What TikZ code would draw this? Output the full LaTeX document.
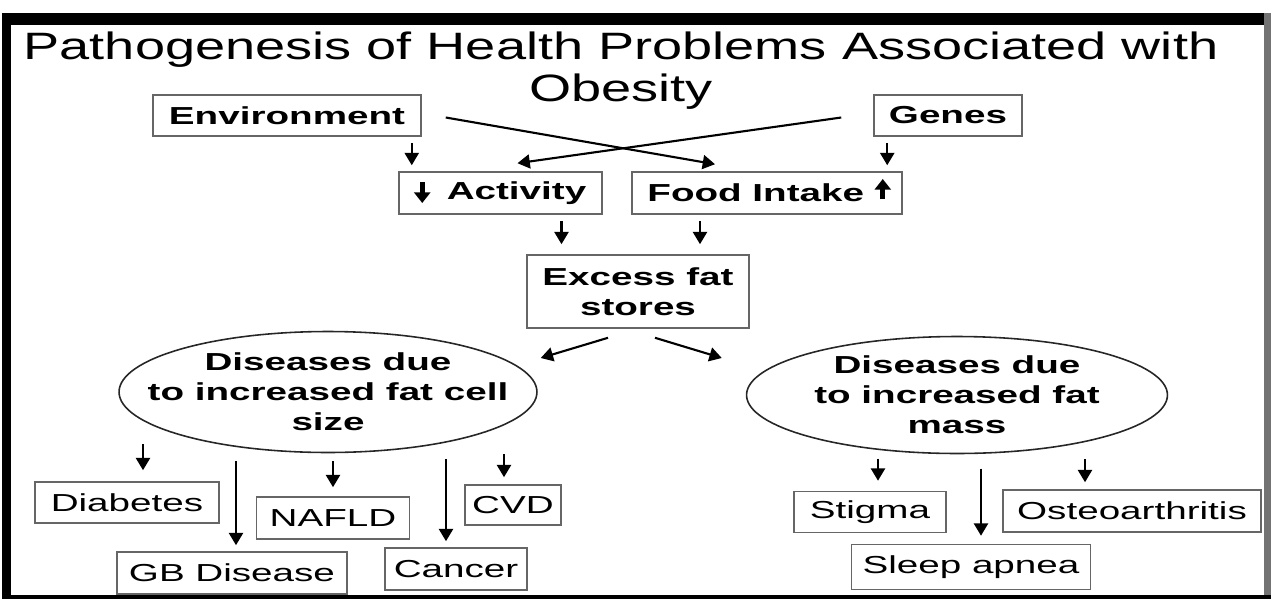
\documentclass[tikz,border=0pt]{standalone}
\usepackage{fontspec}
\setmainfont{Liberation Sans}[FakeStretch=1.57]
\newfontfamily\titlefont{Liberation Sans}[FakeStretch=1.42]
\usetikzlibrary{arrows.meta, shapes.geometric, calc}

\begin{document}
\begin{tikzpicture}[
      x=0.02cm, y=-0.02cm,
      >={Triangle[length=7pt, width=8pt]},
      arr/.style={->, line width=1.2pt},
      fatarr/.style={-{Triangle[length=6pt, width=9pt]}, line width=2.8pt},
      box/.style={draw=black!60, line width=0.9pt, inner sep=0pt,
        font=\fontsize{14}{17}\selectfont},
      bbox/.style={box, font=\fontsize{14}{17}\selectfont\bfseries},
      blob/.style={ellipse, draw=black!85, line width=0.9pt, inner sep=0pt},
      blobtext/.style={align=center, font=\fontsize{14}{17}\selectfont\bfseries},
    ]

    \useasboundingbox (0,0) rectangle (1271,599);
    \fill[black] (2,13) rectangle (1271,25);
    \fill[black] (2,13) rectangle (11,599);
    \fill[black!55] (1264,13) rectangle (1271,599);
    \fill[black] (2,595) rectangle (1271,599);

    \node[font=\titlefont\fontsize{21.7}{23.9}\selectfont, align=center, anchor=north]
      (title) at (621,26) {Pathogenesis of Health Problems Associated with\\Obesity};

    \node[bbox, minimum width=5.36cm, minimum height=0.82cm] (env)   at (287,115.5) {Environment};
    \node[bbox, minimum width=2.96cm, minimum height=0.82cm] (genes) at (948,115.5) {Genes};
    \node[bbox, minimum width=4.06cm, minimum height=0.84cm] (act)   at (500.5,193) {\hspace*{0.64cm}Activity};
    \node[bbox, minimum width=5.4cm,  minimum height=0.84cm] (food)  at (767,193) {Food Intake\hspace*{0.45cm}};
    \node[bbox, minimum width=4.44cm, minimum height=1.46cm, align=center]
      (excess) at (638,291.5) {Excess fat\\stores};

    \draw[fatarr] ($(act.west)+(24,-11)$) -- ($(act.west)+(24,10)$);
    \draw[fatarr] ($(food.east)+(-20,6)$) -- ($(food.east)+(-20,-14)$);

    \node[blob, minimum width=8.36cm, minimum height=2.42cm,
      label={[blobtext]center:Diseases due\\to increased fat cell\\size}] (ell1) at (328,392) {};
    \node[blob, minimum width=8.42cm, minimum height=2.34cm,
      label={[blobtext]center:Diseases due\\to increased fat\\mass}] (ell2) at (957,395) {};

    \node[box, minimum width=3.68cm, minimum height=0.82cm] (diab)   at (127,502.5) {Diabetes};
    \node[box, minimum width=4.6cm,  minimum height=0.84cm] (gb)     at (232,573) {GB Disease};
    \node[box, minimum width=3.06cm, minimum height=0.84cm] (nafld)  at (333,518) {NAFLD};
    \node[box, minimum width=1.92cm, minimum height=0.8cm]  (cvd)    at (513,505) {CVD};
    \node[box, minimum width=2.84cm, minimum height=0.84cm] (cancer) at (456,569) {Cancer};
    \node[box, minimum width=3.04cm, minimum height=0.82cm] (stigma) at (870,512) {Stigma};
    \node[box, minimum width=4.78cm, minimum height=0.9cm]  (sleep)  at (971,567) {Sleep apnea};
    \node[box, minimum width=5.16cm, minimum height=0.84cm] (osteo)  at (1132,511) {Osteoarthritis};

    \draw[arr] ($(env.south east)+(-10,6)$) -- ($(env.south east |- act.north)+(-10,-6)$);
    \draw[arr] ($(genes.south west)+(14,6)$) -- ($(genes.south west |- food.north)+(14,-6)$);
    \draw[arr] ($(env.east)+(24,2)$) -- ($(food.north)+(-52,-7)$);
    \draw[arr] ($(genes.west)+(-32,2)$) -- ($(act.north)+(17,-8)$);
    \draw[arr] ($(act.south)+(61,6)$) -- ($(act.south |- excess.north)+(61,-10)$);
    \draw[arr] ($(food.south)+(-67,6)$) -- ($(food.south |- excess.north)+(-67,-10)$);
    \draw[arr] ($(excess.south)+(-30,9)$) -- ($(ell1.east)+(3,-34)$);
    \draw[arr] ($(excess.south)+(17,9)$) -- ($(ell2.west)+(-24,-37)$);

    \draw[arr] ($(diab.north)+(16,-37)$) -- ($(diab.north)+(16,-11)$);
    \draw[arr] ($(gb.north)+(4,-90)$) -- ($(gb.north)+(4,-6)$);
    \draw[arr] ($(nafld.north)+(0,-35)$) -- ($(nafld.north)+(0,-9)$);
    \draw[arr] ($(cancer.north)+(-10,-88)$) -- ($(cancer.north)+(-10,-6)$);
    \draw[arr] ($(cvd.north)+(-9,-30)$) -- ($(cvd.north)+(-9,-7)$);

    \draw[arr] ($(stigma.north)+(8,-32)$) -- ($(stigma.north)+(8,-10)$);
    \draw[arr] ($(sleep.north)+(10,-75)$) -- ($(sleep.north)+(10,-8)$);
    \draw[arr] ($(osteo.north)+(-47,-30)$) -- ($(osteo.north)+(-47,-7)$);

  \end{tikzpicture}
\end{document}
